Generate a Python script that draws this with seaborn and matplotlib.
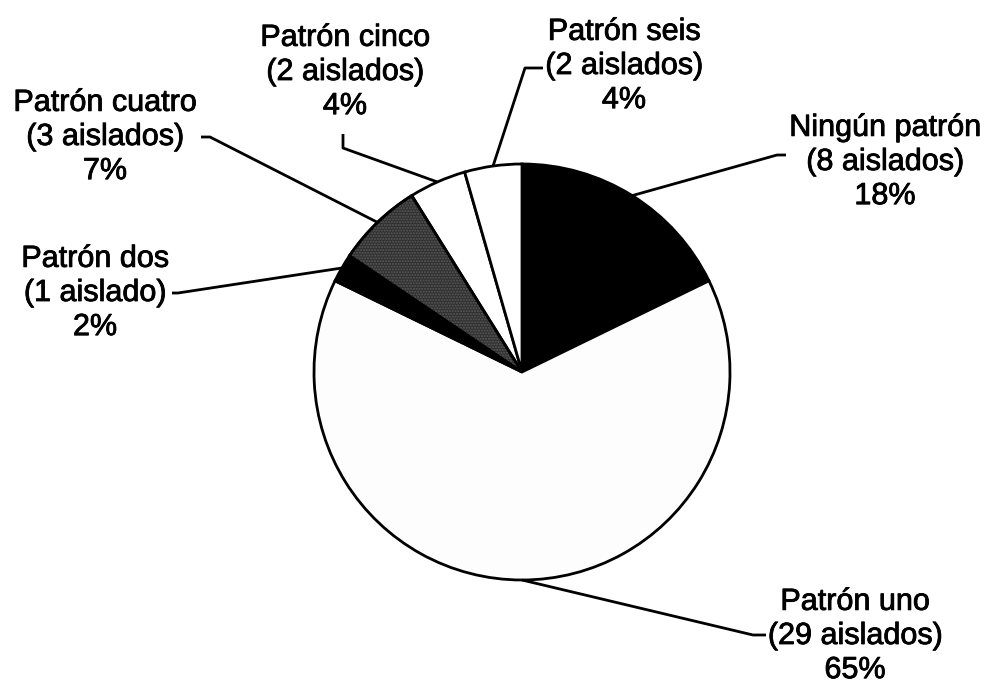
import numpy as np
import matplotlib
matplotlib.use("Agg")
import matplotlib.pyplot as plt
import matplotlib.patheffects as pe
import seaborn as sns
from matplotlib.patches import Wedge

# Isolates per pattern, drawn clockwise from 12 o'clock
patterns = ["Ningún patrón", "Patrón uno", "Patrón dos",
            "Patrón cuatro", "Patrón cinco", "Patrón seis"]
isolates = [8, 29, 1, 3, 2, 2]
isolate_text = ["(8 aislados)", "(29 aislados)", "(1 aislado)",
                "(3 aislados)", "(2 aislados)", "(2 aislados)"]
percent_text = ["18%", "65%", "2%", "7%", "4%", "4%"]

sns.set_theme(style="white")
plt.rcParams["font.family"] = ["Liberation Sans", "DejaVu Sans"]

W, H = 989, 685
fig = plt.figure(figsize=(W / 100, H / 100), dpi=100)
ax = fig.add_axes([0, 0, 1, 1])
ax.set_xlim(0, W)
ax.set_ylim(0, H)
ax.set_aspect("equal")
ax.axis("off")


def px(x, y):
    """Figure pixel position (top-left origin) to axes data units."""
    return x, H - y


cx, cy = px(522, 372)
R = 208
LW = 2.0
colors = ["black", "#fdfdfe", "black", "#2f2f2f", "white", "white"]

wedges, _ = ax.pie(isolates, colors=colors, startangle=90, counterclock=False,
                   center=(cx, cy), radius=R,
                   wedgeprops=dict(edgecolor="black", linewidth=LW))
ax.set_xlim(0, W)
ax.set_ylim(0, H)

# speckled texture on the grey wedge
w4 = wedges[3]
ax.add_patch(Wedge((cx, cy), R, w4.theta1, w4.theta2, fill=False,
                   hatch="......", edgecolor="#5a5a5a", linewidth=0, zorder=2))
ax.add_patch(Wedge((cx, cy), R, w4.theta1, w4.theta2, fill=False,
                   edgecolor="black", linewidth=LW, zorder=3))

# label block centre and leader-line elbow path (pixel layout, top-left origin)
layout = {
    "Ningún patrón": dict(text=(885, 162), path=[(777, 155), (786, 155)]),
    "Patrón uno": dict(text=(855, 636), path=[(753, 635), (766, 635)]),
    "Patrón dos": dict(text=(95, 293), path=[(178, 293), (172, 293)]),
    "Patrón cuatro": dict(text=(105, 137), path=[(210, 137), (201, 137)]),
    "Patrón cinco": dict(text=(345, 72), path=[(343, 148), (343, 134)]),
    "Patrón seis": dict(text=(624, 66), path=[(525, 68), (543, 68)]),
}

heavier = [pe.withStroke(linewidth=0.6, foreground="black")]

for w, name, iso, pct in zip(wedges, patterns, isolate_text, percent_text):
    mid = np.deg2rad((w.theta1 + w.theta2) / 2)
    start = (cx + R * np.cos(mid), cy + R * np.sin(mid))
    pts = [start] + [px(*p) for p in layout[name]["path"]]
    xs, ys = zip(*pts)
    ax.plot(xs, ys, color="black", linewidth=LW, solid_capstyle="butt",
            zorder=4)
    tx, ty = px(*layout[name]["text"])
    ax.text(tx, ty, f"{name}\n{iso}\n{pct}", ha="center", va="center",
            multialignment="center", fontsize=22, linespacing=1.18,
            color="black", path_effects=heavier)

fig.savefig("out.png", dpi=100, facecolor="white")
